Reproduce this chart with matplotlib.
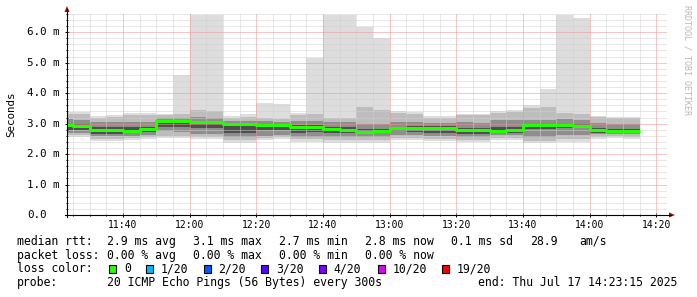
import numpy as np
import pandas as pd
import matplotlib
matplotlib.use("Agg")
import matplotlib.pyplot as plt
import matplotlib.transforms as mtransforms
from matplotlib.patches import Rectangle, Polygon
from matplotlib.lines import Line2D

# ---------------- data (milliseconds) ----------------
bar_start = pd.date_range("2025-07-17 11:20", periods=35, freq="5min")

median_rtt = [2.96, 2.92, 2.80, 2.80, 2.76, 2.82, 3.10, 3.10, 3.06, 3.04,
              2.98, 2.98, 2.97, 2.94, 2.89, 2.89, 2.81, 2.80, 2.74, 2.76,
              2.85, 2.85, 2.85, 2.85, 2.78, 2.78, 2.77, 2.79, 2.94, 2.94,
              2.96, 2.92, 2.78, 2.77, 2.76]

ping_max = [3.39, 3.39, 3.25, 3.28, 3.34, 3.34, 3.33, 4.60, 6.58, 6.58,
            3.24, 3.31, 3.69, 3.65, 3.34, 5.16, 6.58, 6.58, 6.18, 5.80,
            3.42, 3.39, 3.25, 3.25, 3.33, 3.33, 3.42, 3.45, 3.61, 4.12,
            6.58, 6.48, 3.26, 3.23, 3.21]
ping_min = [2.57, 2.57, 2.43, 2.44, 2.46, 2.48, 2.52, 2.52, 2.48, 2.48,
            2.37, 2.37, 2.46, 2.48, 2.41, 2.41, 2.37, 2.37, 2.37, 2.37,
            2.46, 2.46, 2.42, 2.42, 2.38, 2.38, 2.46, 2.46, 2.35, 2.35,
            2.41, 2.41, 2.48, 2.52, 2.48]

ping2_hi = [3.33, 3.33, 3.20, 3.22, 3.28, 3.28, 3.28, 3.30, 3.45, 3.42,
            3.20, 3.22, 3.18, 3.15, 3.28, 3.30, 3.17, 3.20, 3.54, 3.45,
            3.35, 3.33, 3.20, 3.20, 3.28, 3.28, 3.36, 3.38, 3.50, 3.56,
            3.35, 3.30, 3.22, 3.18, 3.17]
ping2_lo = [2.63, 2.63, 2.50, 2.50, 2.53, 2.55, 2.60, 2.60, 2.56, 2.56,
            2.45, 2.45, 2.53, 2.55, 2.48, 2.48, 2.45, 2.45, 2.45, 2.45,
            2.53, 2.53, 2.50, 2.50, 2.46, 2.46, 2.53, 2.53, 2.44, 2.44,
            2.50, 2.50, 2.55, 2.58, 2.55]

ping5_hi = [3.15, 3.12, 3.05, 3.05, 3.05, 3.05, 3.18, 3.20, 3.22, 3.18,
            3.08, 3.08, 3.08, 3.06, 3.08, 3.08, 3.05, 3.05, 3.00, 3.00,
            3.05, 3.05, 3.02, 3.02, 3.05, 3.02, 3.12, 3.12, 3.12, 3.12,
            3.15, 3.12, 3.02, 3.00, 2.98]
ping5_lo = [2.70, 2.70, 2.58, 2.58, 2.60, 2.62, 2.75, 2.72, 2.66, 2.65,
            2.55, 2.55, 2.60, 2.62, 2.55, 2.56, 2.55, 2.55, 2.55, 2.55,
            2.62, 2.62, 2.58, 2.58, 2.56, 2.56, 2.62, 2.62, 2.56, 2.56,
            2.62, 2.62, 2.65, 2.67, 2.65]

ping8_hi = [3.00, 2.98, 2.90, 2.90, 2.88, 2.88, 3.12, 3.12, 3.10, 3.08,
            3.00, 3.00, 3.00, 2.98, 2.95, 2.95, 2.88, 2.88, 2.82, 2.82,
            2.90, 2.92, 2.92, 2.92, 2.85, 2.85, 2.88, 2.88, 2.98, 2.98,
            3.00, 2.98, 2.84, 2.82, 2.82]
ping8_lo = [2.80, 2.78, 2.66, 2.66, 2.68, 2.72, 2.90, 2.90, 2.85, 2.85,
            2.70, 2.70, 2.78, 2.78, 2.70, 2.72, 2.70, 2.70, 2.68, 2.68,
            2.75, 2.72, 2.68, 2.68, 2.66, 2.66, 2.68, 2.70, 2.82, 2.82,
            2.85, 2.84, 2.70, 2.70, 2.70]

x_tick_labels = ["11:40", "12:00", "12:20", "12:40", "13:00", "13:20",
                 "13:40", "14:00", "14:20"]
y_tick_labels = ["0.0", "1.0 m", "2.0 m", "3.0 m", "4.0 m", "5.0 m", "6.0 m"]

loss_labels = ["0", "1/20", "2/20", "3/20", "4/20", "10/20", "19/20"]
loss_colors = ["#26ff00", "#00b8ff", "#0059ff", "#5e00ff", "#7e00ff",
               "#dd00ff", "#ff0000"]

# ---------------- figure ----------------
W, H = 697, 297
fig = plt.figure(figsize=(W / 100, H / 100), dpi=100)
fig.patch.set_facecolor("white")
L, R, B, T = 67, 667, 215, 13
ax = fig.add_axes([L / W, 1 - B / H, (R - L) / W, (B - T) / H])
ax.set_facecolor("white")
for s in ax.spines.values():
    s.set_visible(False)

# pixel transform (origin top-left)
px = mtransforms.Affine2D().scale(1 / W, -1 / H).translate(0, 1) + fig.transFigure

x = (bar_start.hour * 60 + bar_start.minute).to_numpy(float)
step = 5.0
x0, x1 = 11 * 60 + 23.25, 14 * 60 + 23.25
ax.set_xlim(x0, x1)
ax.set_ylim(0, 6.63)

layers = [(ping_min, ping_max, "#dddddd"),
          (ping2_lo, ping2_hi, "#bdbdbd"),
          (ping5_lo, ping5_hi, "#8e8e8e"),
          (ping8_lo, ping8_hi, "#4e4e4e")]
for lo, hi, c in layers:
    lo = np.asarray(lo)
    hi = np.asarray(hi)
    ax.bar(x, hi - lo, bottom=lo, width=step, align="edge", color=c,
           linewidth=0, antialiased=False, zorder=1)

# grid (1 px on / 1 px off dotted)
dot = (0, (1, 1))
gkw = dict(lw=0.72, ls=dot, zorder=3, snap=True)
for v in np.arange(0.2, 6.61, 0.2):
    if abs(v - round(v)) < 1e-6:
        continue
    ax.axhline(v, color="#d0d0d0", **gkw)
for m in np.arange(685, 864, 5):
    if m % 20 == 0:
        continue
    ax.axvline(m, color="#d0d0d0", **gkw)
for v in range(1, 7):
    ax.axhline(v, color="#f09090", **gkw)
for m in range(700, 861, 20):
    ax.axvline(m, color="#f09090", **gkw)

# median line
xs = np.append(x, x[-1] + step)
ys = np.append(median_rtt, median_rtt[-1])
ax.plot(xs, ys, drawstyle="steps-post", color=loss_colors[0], lw=2.2,
        zorder=5, solid_capstyle="butt")

# ticks
ax.set_xticks(range(700, 861, 20))
ax.set_xticks(np.arange(685, 864, 5), minor=True)
ax.set_yticks(range(0, 7))
ax.set_yticks(np.arange(0, 6.61, 0.2), minor=True)
ax.tick_params(which="both", direction="inout", length=3, width=0.72,
               color="black", labelbottom=False, labelleft=False)
ax.tick_params(which="minor", length=2)

# axis lines and arrows
fig.add_artist(Line2D([L, L], [B + 2, 9], transform=px, color="black", lw=0.8))
fig.add_artist(Line2D([L - 2, 671], [B, B], transform=px, color="black", lw=0.8))
fig.add_artist(Polygon([[64.5, 12], [69.5, 12], [67, 6]], closed=True,
                       transform=px, color="#8b1010", lw=0))
fig.add_artist(Polygon([[669, 212.5], [669, 217.5], [675, 215]], closed=True,
                       transform=px, color="#8b1010", lw=0))

mono = "DejaVu Sans Mono"
# x tick labels
bx = mtransforms.blended_transform_factory(ax.transData, px)
for m, lab in zip(range(700, 861, 20), x_tick_labels):
    ax.text(m, 227.7, lab, transform=bx, ha="center", va="baseline",
            fontsize=7.0, family=mono, color="black", clip_on=False)
# y tick labels
by = mtransforms.blended_transform_factory(px, ax.transData) + \
    mtransforms.ScaledTranslation(0, -3 / 100, fig.dpi_scale_trans)
for v, lab in enumerate(y_tick_labels):
    ax.text(27.3, v, lab, transform=by, ha="left", va="baseline",
            fontsize=7.8, family=mono, color="black", clip_on=False)

fig.text(11 / W, 1 - 114.5 / H, "Seconds", rotation=90, ha="center",
         va="center", fontsize=7.8, family=mono)
fig.text(687.5 / W, 1 - 5 / H, "RRDTOOL / TOBI OETIKER", rotation=270,
         ha="center", va="top", fontsize=6.0, family=mono, color="#b8b8b8")

# legend
fs = 8.3


def t(xp, yp, s):
    fig.text(xp, yp, s, transform=px, ha="left", va="baseline",
             fontsize=fs, family=mono, color="black")


y1, y2, y3, y4 = 245.0, 258.7, 272.4, 286.0
t(16.7, y1, "median rtt:")
t(107.3, y1, "2.9 ms avg")
t(193.3, y1, "3.1 ms max")
t(279.3, y1, "2.7 ms min")
t(365.0, y1, "2.8 ms now")
t(451.0, y1, "0.1 ms sd")
t(530.0, y1, "28.9")
t(579.3, y1, "am/s")

t(16.7, y2, "packet loss:")
t(107.3, y2, "0.00 % avg")
t(193.3, y2, "0.00 % max")
t(279.3, y2, "0.00 % min")
t(365.0, y2, "0.00 % now")

t(16.7, y3, "loss color:")
box_x = [108.7, 146.0, 204.0, 261.3, 319.3, 377.7, 442.0]
lab_x = [124.0, 160.7, 218.3, 276.7, 333.3, 392.3, 456.7]
for bxp, lxp, lab, c in zip(box_x, lab_x, loss_labels, loss_colors):
    fig.add_artist(Rectangle((bxp, 264.5), 7, 8, transform=px, facecolor=c,
                             edgecolor="black", lw=0.8))
    t(lxp, y3, lab)

t(16.7, y4, "probe:")
t(107.3, y4, "20 ICMP Echo Pings (56 Bytes) every 300s")
t(478.3, y4, "end: Thu Jul 17 14:23:15 2025")

fig.savefig("out.png", dpi=100, facecolor="white")
